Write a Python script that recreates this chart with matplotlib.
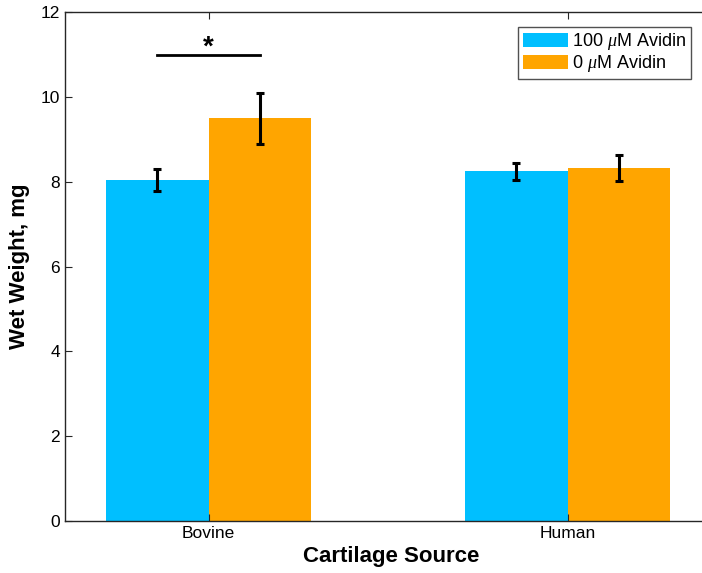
import matplotlib.pyplot as plt
import numpy as np

plt.rcParams['font.family'] = ['Liberation Sans', 'DejaVu Sans']
plt.rcParams['mathtext.fontset'] = 'custom'
plt.rcParams['mathtext.it'] = 'Liberation Serif:italic'

sources = ['Bovine', 'Human']
avidin_100 = [8.05, 8.25]
avidin_100_err = [0.26, 0.20]
avidin_0 = [9.5, 8.33]
avidin_0_err = [0.6, 0.31]
series_labels = [r'100 $\mu$M Avidin', r'0 $\mu$M Avidin']

fig = plt.figure(figsize=(7.02, 5.73), dpi=100)
ax = fig.add_axes([0.0926, 0.0908, 0.9307, 0.888])

x = np.arange(1, len(sources) + 1)
w = 0.285
ax.bar(x - w / 2, avidin_100, w, color='#00BFFF', label=series_labels[0])
ax.bar(x + w / 2, avidin_0, w, color='#FFA500', label=series_labels[1])
ax.errorbar(x - w / 2, avidin_100, yerr=avidin_100_err, fmt='none', ecolor='black',
            elinewidth=2.2, capsize=3, capthick=2.2)
ax.errorbar(x + w / 2, avidin_0, yerr=avidin_0_err, fmt='none', ecolor='black',
            elinewidth=2.2, capsize=3, capthick=2.2)

# significance marker over the bovine pair
ax.plot([x[0] - w / 2, x[0] + w / 2], [11.0, 11.0], color='black', lw=2)
ax.text(x[0], 10.85, '*', ha='center', va='bottom', fontsize=20, fontweight='bold')

ax.set_xlim(0.6, 2.42)
ax.set_ylim(0, 12)
ax.set_xticks(x)
ax.set_xticklabels(sources)
ax.set_yticks(np.arange(0, 13, 2))
ax.tick_params(direction='in', top=True, right=True, labelsize=12.5, length=5, color='#262626')
for s in ax.spines.values():
    s.set_color('#262626')
    s.set_linewidth(1)
ax.set_xlabel('Cartilage Source', fontsize=16, fontweight='bold', labelpad=4)
ax.set_ylabel('Wet Weight, mg', fontsize=16, fontweight='bold', labelpad=8)

leg = ax.legend(loc='upper right', bbox_to_anchor=(0.984, 0.953), bbox_transform=fig.transFigure,
                fontsize=13, frameon=True, fancybox=False, edgecolor='#262626',
                handlelength=2.5, handleheight=0.85, handletextpad=0.25,
                borderpad=0.25, labelspacing=0.05, borderaxespad=0)
leg.get_frame().set_linewidth(1)

fig.savefig('out.png', dpi=100)
